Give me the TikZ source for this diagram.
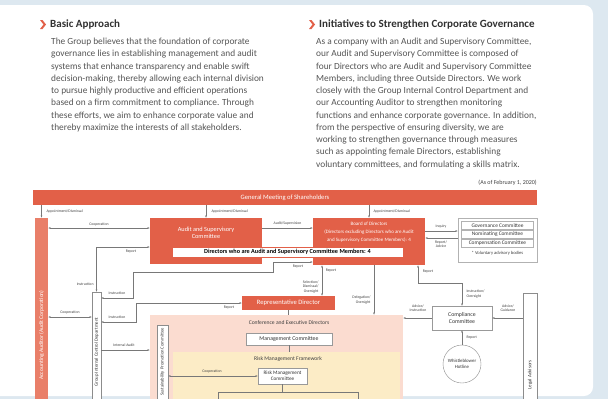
\documentclass[tikz,border=0pt]{standalone}
\usepackage{fontspec}
\setmainfont{Carlito}
\usetikzlibrary{arrows.meta}
\definecolor{paneblue}{RGB}{221,232,240}
\definecolor{accent}{RGB}{226,96,72}
\definecolor{accentsoft}{RGB}{233,127,105}
\definecolor{bodygray}{RGB}{85,85,85}
\definecolor{headgray}{RGB}{50,50,50}
\definecolor{pinkzone}{RGB}{251,220,208}
\definecolor{yellowzone}{RGB}{252,236,198}
\definecolor{wiregray}{RGB}{120,120,120}
\begin{document}
\begin{tikzpicture}[x=1pt,y=-1pt,
  head/.style={font=\fontsize{11}{12}\selectfont\bfseries, text=headgray, inner sep=0},
  body/.style={font=\fontsize{9.35}{12.25}\selectfont, text=bodygray, align=left, inner sep=0},
  tag/.style={font=\fontsize{3.8}{4.3}\selectfont, text=black!75, inner sep=0.3pt, align=center},
  wire/.style={draw=wiregray, line width=0.35pt},
  arr/.style={wire, -{Latex[length=2.2pt,width=1.8pt]}},
  darr/.style={wire, {Latex[length=2.2pt,width=1.8pt]}-{Latex[length=2.2pt,width=1.8pt]}},
  redbox/.style={fill=accent, draw=none, text=white, align=center, inner sep=0},
  plainbox/.style={fill=white, draw=black!40, line width=0.35pt, align=center, inner sep=0, text=black!80},
  sidebox/.style={fill=white, draw=black!45, line width=0.35pt, inner sep=0},
  vtext/.style={rotate=90, inner sep=0, text=black!80},
]
\useasboundingbox (0,0) rectangle (608,399);
\clip (0,0) rectangle (608,399);

% page background and white panel
\fill[paneblue] (0,0) rectangle (608,399);
\fill[white, rounded corners=9pt] (-20,5) rectangle (593,396);

% section headings
\fill[accent] (40,20) -- (42.5,20) -- (46,24.5) -- (42.5,29) -- (40,29) -- (43.5,24.5) -- cycle;
\node[head, anchor=west] (headA) at (50,24.5) {Basic Approach};
\fill[accent] (309,20) -- (311.5,20) -- (315,24.5) -- (311.5,29) -- (309,29) -- (312.5,24.5) -- cycle;
\node[head, anchor=west] (headB) at (319,24.5) {Initiatives to Strengthen Corporate Governance};

\node[body, anchor=north west] (bodyA) at (51,38) {The Group believes that the foundation of corporate\\
governance lies in establishing management and audit\\
systems that enhance transparency and enable swift\\
decision-making, thereby allowing each internal division\\
to pursue highly productive and efficient operations\\
based on a firm commitment to compliance. Through\\
these efforts, we aim to enhance corporate value and\\
thereby maximize the interests of all stakeholders.};

\node[body, anchor=north west] (bodyB) at (316,38) {As a company with an Audit and Supervisory Committee,\\
our Audit and Supervisory Committee is composed of\\
four Directors who are Audit and Supervisory Committee\\
Members, including three Outside Directors. We work\\
closely with the Group Internal Control Department and\\
our Accounting Auditor to strengthen monitoring\\
functions and enhance corporate governance. In addition,\\
from the perspective of ensuring diversity, we are\\
working to strengthen governance through measures\\
such as appointing female Directors, establishing\\
voluntary committees, and formulating a skills matrix.};

% governance chart
\node[anchor=east, font=\fontsize{6}{7}\selectfont, text=black!75, inner sep=0] (asof) at (537,183) {(As of February 1, 2020)};
\node[redbox, minimum width=504pt, minimum height=15pt, font=\fontsize{6.6}{7}\selectfont] (gms) at (285,197.5) {General Meeting of Shareholders};

\node[fill=accentsoft, minimum width=13pt, minimum height=190pt, inner sep=0] (acc) at (41.5,313) {};
\node[vtext, text=white, font=\fontsize{5.6}{6}\selectfont] (acct) at (41.5,335) {Accounting Auditor (Audit Corporation)};

\node[redbox, minimum width=112pt, minimum height=46pt] (asc) at (206,241) {};
\node[text=white, font=\fontsize{6.3}{7.6}\selectfont, align=center, inner sep=0] (asct) at (206,233) {Audit and Supervisory\\Committee};

\node[redbox, minimum width=112pt, minimum height=47pt] (bod) at (369,241.5) {};
\node[text=white, font=\fontsize{5}{8}\selectfont, align=center, inner sep=0] (bodt) at (369,232) {Board of Directors\\(Directors excluding Directors who are Audit\\and Supervisory Committee Members): 4};

\node[fill=white, draw=accent, line width=0.4pt, minimum width=231pt, minimum height=10pt, inner sep=0, font=\fontsize{6.2}{7}\selectfont\bfseries] (strip) at (287.5,252) {Directors who are Audit and Supervisory Committee Members: 4};

\node[draw=black!30, fill=white, minimum width=79pt, minimum height=44pt, inner sep=0] (vol) at (497.5,240) {};
\node[plainbox, draw=black!30, minimum width=72pt, minimum height=8pt, font=\fontsize{5.4}{6}\selectfont] (govc) at (497.5,225.5) {Governance Committee};
\node[plainbox, draw=black!30, minimum width=72pt, minimum height=8pt, font=\fontsize{5.4}{6}\selectfont] (nomc) at (497.5,234.5) {Nominating Committee};
\node[plainbox, draw=black!30, minimum width=72pt, minimum height=8pt, font=\fontsize{5.4}{6}\selectfont] (comc) at (497.5,243.5) {Compensation Committee};
\node[font=\fontsize{4.6}{5}\selectfont, text=black!75, inner sep=0] (volnote) at (497.5,253.5) {* Voluntary advisory bodies};

\node[sidebox, minimum width=9pt, minimum height=115pt] (gicd) at (96.5,349.5) {};
\node[vtext, font=\fontsize{4.8}{5}\selectfont] (gicdt) at (96.5,352) {Group Internal Control Department};

\node[fill=pinkzone, minimum width=253pt, minimum height=95pt, inner sep=0] (exec) at (276.5,362.5) {};
\node[font=\fontsize{5.6}{6}\selectfont, text=black!75, inner sep=0] (exect) at (289,322.5) {Conference and Executive Directors};
\node[fill=yellowzone, minimum width=227pt, minimum height=58pt, inner sep=0] (riskzone) at (286.5,381) {};
\node[font=\fontsize{5.6}{6}\selectfont, text=black!75, inner sep=0] (riskt) at (288,359.5) {Risk Management Framework};

\node[redbox, minimum width=93pt, minimum height=14pt, font=\fontsize{6.6}{7}\selectfont] (rep) at (288.5,303) {Representative Director};
\node[plainbox, minimum width=86pt, minimum height=12pt, font=\fontsize{5.8}{6}\selectfont] (mgc) at (289,339) {Management Committee};

\node[sidebox, minimum width=11pt, minimum height=85pt] (spc) at (162.5,367.5) {};
\node[vtext, font=\fontsize{4.6}{5}\selectfont] (spct) at (162.5,362) {Sustainability Promotion Committee};

\node[plainbox, minimum width=49pt, minimum height=16pt, font=\fontsize{5.2}{6}\selectfont] (rmc) at (282.5,376) {Risk Management\\Committee};

\node[plainbox, minimum width=60pt, minimum height=24pt, font=\fontsize{5.8}{7}\selectfont] (cpc) at (462,318) {Compliance\\Committee};
\node[circle, draw=black!45, fill=white, minimum size=38pt, inner sep=0, align=center, font=\fontsize{4.8}{5.6}\selectfont, text=black!80] (wbh) at (462,364) {Whistleblower\\Hotline};

\node[sidebox, minimum width=14pt, minimum height=115pt] (lgl) at (530,350.5) {};
\node[vtext, font=\fontsize{5}{5}\selectfont] (lglt) at (530,375) {Legal Advisors};

% connectors from the General Meeting
\draw[arr] (acc.north |- gms.south) -- (acc.north);
\node[tag, anchor=west] (l1) at (46,211.5) {Appointment/Dismissal};
\draw[arr] (asc.north |- gms.south) -- (asc.north);
\node[tag, anchor=west] (l2) at (211,211.5) {Appointment/Dismissal};
\draw[arr] (bod.north |- gms.south) -- (bod.north);
\node[tag, anchor=west] (l3) at (373,211.5) {Appointment/Dismissal};

% audit side
\draw[darr] (acc.east |- 0,228) -- (asc.west |- 0,228);
\node[tag] (l4) at (99,224.5) {Cooperation};
\draw[arr] (asc.east |- 0,228) -- (bod.west |- 0,228);
\node[tag] (l5) at (287.5,223.5) {Audit/Supervision};
\draw[darr] (asc.west |- 0,247) -| (gicd.north);
\node[tag] (l6) at (131,251.5) {Report};
\node[tag, anchor=east] (l7) at (94,284) {Instruction};
\draw[darr] (bod.west |- 0,262) -- (273,262) -- (273,272) -- (133,272) |- (gicd.east |- 0,298);
\node[tag] (l8) at (298,266.5) {Report};
\node[tag] (l9) at (117,293.5) {Instruction};
\draw[darr] (rep.west) -- (136,303) |- (gicd.east |- 0,322);
\node[tag] (l10) at (229,307.5) {Report};
\node[tag] (l11) at (117,317.5) {Instruction};
\draw[darr] (acc.east |- 0,317) -- (gicd.west |- 0,317);
\node[tag] (l12) at (70,312.5) {Cooperation};
\draw[arr] (gicd.east |- 0,350) -- (exec.west |- 0,350);
\node[tag] (l13) at (124,345.5) {Internal Audit};

% board side
\draw[arr] (bod.east |- 0,231) -- (vol.west |- 0,231);
\node[tag] (l14) at (441,226.5) {Inquiry};
\draw[arr] (vol.west |- 0,238) -- (bod.east |- 0,238);
\node[tag] (l15) at (441,244.5) {Report/\\Advice};
\draw[darr] (bod.south -| 322,0) -- (rep.north -| 322,0);
\node[tag] (l16) at (331,271) {Report};
\node[tag, anchor=east, align=right] (l17) at (319,287) {Selection/\\Dismissal/\\Oversight};
\draw[arr] (bod.south -| 374,0) -- (exec.north -| 374,0);
\node[tag, anchor=east, align=right] (l18) at (371,300) {Delegation/\\Oversight};
\draw[darr] (bod.south -| 418,0) |- (462,283) -- (cpc.north);
\node[tag] (l19) at (428,271.5) {Report};
\node[tag, anchor=west, align=left] (l20) at (466,294) {Instruction/\\Oversight};

% compliance
\draw[arr] (cpc.west) -- (exec.east |- cpc.west);
\node[tag] (l21) at (418,308) {Advice/\\Instruction};
\draw[arr] (lgl.west |- cpc.east) -- (cpc.east);
\node[tag] (l22) at (508,308) {Advice/\\Guidance};
\draw[arr] (wbh.north) -- (cpc.south);
\node[tag, anchor=west] (l23) at (466,338) {Report};

% execution side
\draw[wire] (rep.south) -- (exec.north -| rep.south);
\draw[wire] (mgc.south) -- (riskzone.north -| mgc.south);
\draw[darr] (spc.east |- rmc.west) -- (rmc.west);
\node[tag] (l24) at (212,371) {Cooperation};
\coordinate (tl) at (218,392);
\coordinate (tr) at (358,392);
\coordinate (tld) at (218,402);
\coordinate (trd) at (358,402);
\draw[wire] (rmc.south) -- (rmc.south |- tl);
\draw[wire] (tld) -- (tl) -- (tr) -- (trd);
\end{tikzpicture}
\end{document}
